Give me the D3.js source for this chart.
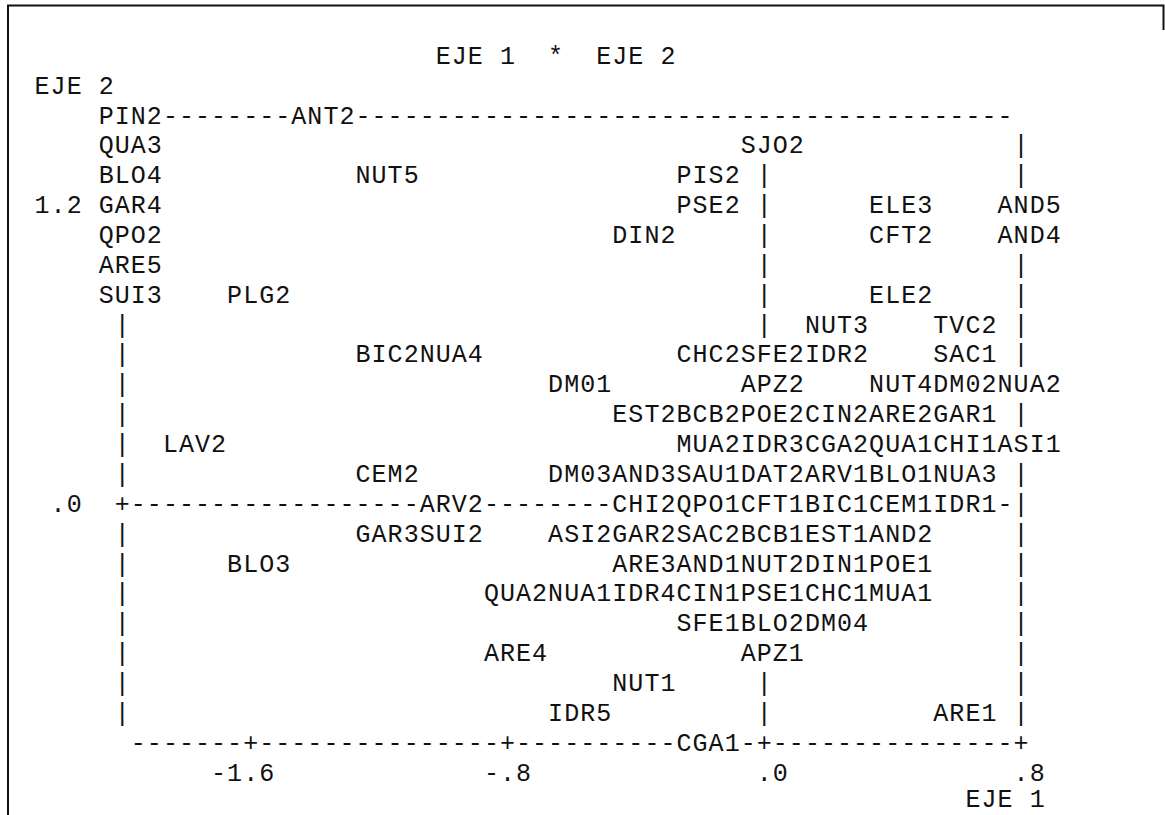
<!DOCTYPE html>
<html>
<head>
<meta charset="utf-8">
<script src="https://cdn.jsdelivr.net/npm/d3@7"></script>
<style>
  html, body { margin: 0; padding: 0; background: #fff; }
  svg { display: block; }
  text { font-family: "Liberation Mono", "DejaVu Sans Mono", monospace; fill: #111; }
</style>
</head>
<body>
<svg id="chart" width="1165" height="815"></svg>
<script>
// Category points of the correspondence map: label, EJE 1 and EJE 2 coordinates
const labels = [
  "PIN2","ANT2",
  "QUA3","SJO2",
  "BLO4","NUT5","PIS2",
  "GAR4","PSE2","ELE3","AND5",
  "QPO2","DIN2","CFT2","AND4",
  "ARE5",
  "SUI3","PLG2","ELE2",
  "NUT3","TVC2",
  "BIC2","NUA4","CHC2","SFE2","IDR2","SAC1",
  "DM01","APZ2","NUT4","DM02","NUA2",
  "EST2","BCB2","POE2","CIN2","ARE2","GAR1",
  "LAV2","MUA2","IDR3","CGA2","QUA1","CHI1","ASI1",
  "CEM2","DM03","AND3","SAU1","DAT2","ARV1","BLO1","NUA3",
  "ARV2","CHI2","QPO1","CFT1","BIC1","CEM1","IDR1",
  "GAR3","SUI2","ASI2","GAR2","SAC2","BCB1","EST1","AND2",
  "BLO3","ARE3","AND1","NUT2","DIN1","POE1",
  "QUA2","NUA1","IDR4","CIN1","PSE1","CHC1","MUA1",
  "SFE1","BLO2","DM04",
  "ARE4","APZ1",
  "NUT1",
  "IDR5","ARE1",
  "CGA1"
];
const eje1 = [
  -2.05,-1.45,
  -2.05,-0.05,
  -2.05,-1.25,-0.25,
  -2.05,-0.25,0.35,0.75,
  -2.05,-0.45,0.35,0.75,
  -2.05,
  -2.05,-1.65,0.35,
  0.15,0.55,
  -1.25,-1.05,-0.25,-0.05,0.15,0.55,
  -0.65,-0.05,0.35,0.55,0.75,
  -0.45,-0.25,-0.05,0.15,0.35,0.55,
  -1.85,-0.25,-0.05,0.15,0.35,0.55,0.75,
  -1.25,-0.65,-0.45,-0.25,-0.05,0.15,0.35,0.55,
  -1.05,-0.45,-0.25,-0.05,0.15,0.35,0.55,
  -1.25,-1.05,-0.65,-0.45,-0.25,-0.05,0.15,0.35,
  -1.65,-0.45,-0.25,-0.05,0.15,0.35,
  -0.85,-0.65,-0.45,-0.25,-0.05,0.15,0.35,
  -0.25,-0.05,0.15,
  -0.85,-0.05,
  -0.45,
  -0.65,0.55,
  -0.25
];
const eje2 = [
  1.56,1.56,
  1.44,1.44,
  1.32,1.32,1.32,
  1.20,1.20,1.20,1.20,
  1.08,1.08,1.08,1.08,
  0.96,
  0.84,0.84,0.84,
  0.72,0.72,
  0.60,0.60,0.60,0.60,0.60,0.60,
  0.48,0.48,0.48,0.48,0.48,
  0.36,0.36,0.36,0.36,0.36,0.36,
  0.24,0.24,0.24,0.24,0.24,0.24,0.24,
  0.12,0.12,0.12,0.12,0.12,0.12,0.12,0.12,
  0.00,0.00,0.00,0.00,0.00,0.00,0.00,
  -0.12,-0.12,-0.12,-0.12,-0.12,-0.12,-0.12,-0.12,
  -0.24,-0.24,-0.24,-0.24,-0.24,-0.24,
  -0.36,-0.36,-0.36,-0.36,-0.36,-0.36,-0.36,
  -0.48,-0.48,-0.48,
  -0.60,-0.60,
  -0.72,
  -0.84,-0.84,
  -0.96
];

// Axis ticks
const xTicks = [-1.6, -0.8, 0, 0.8];
const xTickLabels = ["-1.6", "-.8", ".0", ".8"];
const yTicks = [1.2, 0];
const yTickLabels = ["1.2", ".0"];
// Plot frame extent on each axis
const xFrame = [-2.0, 0.8];
const yFrame = [-0.96, 1.56];

const chartTitle = "EJE 1  *  EJE 2";
const xTitle = "EJE 1";
const yTitle = "EJE 2";

// ---- character-grid layout ----
const cw = 16.05;        // column width
const rowH = 29.86;      // row height
const x0 = 34;           // left edge of column 0
const yTop = 115;        // centre of grid row 0
const fontSize = 25;
const pad = (cw - 0.6 * fontSize) / 2;
const baseShift = 8.6;

// value -> grid column / row
const xCol = d3.scaleLinear().domain([-1.6, 0.8]).range([13, 61]);
const yRow = d3.scaleLinear().domain([1.2, 0]).range([3, 13]);
// grid column / row -> pixels
const px = d3.scaleLinear().domain([0, 1]).range([x0, x0 + cw]);
const py = d3.scaleLinear().domain([0, 1]).range([yTop, yTop + rowH]);

const svg = d3.select("#chart");

// page frame
const frame = svg.append("g").attr("stroke", "#111").attr("stroke-width", 2).attr("fill", "none");
frame.append("path").attr("d", "M8,815 L8,5.5 L1163.5,5.5 L1163.5,30");

const gText = svg.append("g").attr("font-size", fontSize);

function drawString(str, col, row, nudge = 0) {
  // split on spaces so each run is placed glyph by glyph on the grid
  let i = 0;
  while (i < str.length) {
    if (str[i] === " ") { i++; continue; }
    let j = i;
    while (j < str.length && str[j] !== " ") j++;
    const run = str.slice(i, j);
    gText.append("text")
      .attr("x", Array.from(run).map((_, k) => (px(col + i + k) + pad).toFixed(2)).join(" "))
      .attr("y", py(row) + baseShift + nudge)
      .text(run);
    i = j;
  }
}

// occupied cells from point labels
const occupied = new Set();
const points = labels.map((lab, i) => ({
  lab,
  col: Math.round(xCol(eje1[i])),
  row: Math.round(yRow(eje2[i]))
}));
points.forEach(p => {
  for (let k = 0; k < p.lab.length; k++) occupied.add(p.row + "," + (p.col + k));
});

// frame, zero lines and tick marks drawn as characters
const leftCol = Math.round(xCol(xFrame[0]));
const rightCol = Math.round(xCol(xFrame[1]));
const topRow = Math.round(yRow(yFrame[1]));
const bottomRow = Math.round(yRow(yFrame[0]));
const zeroCol = Math.round(xCol(0));
const zeroRow = Math.round(yRow(0));
const tickCols = xTicks.map(t => Math.round(xCol(t)));

const grid = new Map();
const put = (r, c, ch) => grid.set(r + "," + c, { r, c, ch });

for (let c = leftCol; c < rightCol; c++) put(topRow, c, "-");
for (let r = topRow + 1; r < bottomRow; r++) {
  put(r, leftCol, "|");
  put(r, rightCol, "|");
  put(r, zeroCol, "|");
}
for (let c = leftCol + 1; c < rightCol; c++) put(zeroRow, c, "-");
put(zeroRow, leftCol, "+");
put(zeroRow, zeroCol, "+");
for (let c = leftCol + 1; c <= rightCol; c++) put(bottomRow, c, tickCols.includes(c) ? "+" : "-");

grid.forEach((cell, key) => {
  if (!occupied.has(key)) drawString(cell.ch, cell.c, cell.r);
});

// point labels
points.forEach(p => drawString(p.lab, p.col, p.row));

// tick labels: decimal point sits on the tick column
xTicks.forEach((t, i) => {
  const s = xTickLabels[i];
  drawString(s, Math.round(xCol(t)) - s.indexOf("."), bottomRow + 1);
});
yTicks.forEach((t, i) => {
  const s = yTickLabels[i];
  drawString(s, leftCol - 2 - s.length, Math.round(yRow(t)));
});

// titles
drawString(chartTitle, 25, topRow - 2);
drawString(yTitle, 0, topRow - 1);
drawString(xTitle, rightCol - 3, bottomRow + 2, -3.5);
</script>
</body>
</html>
